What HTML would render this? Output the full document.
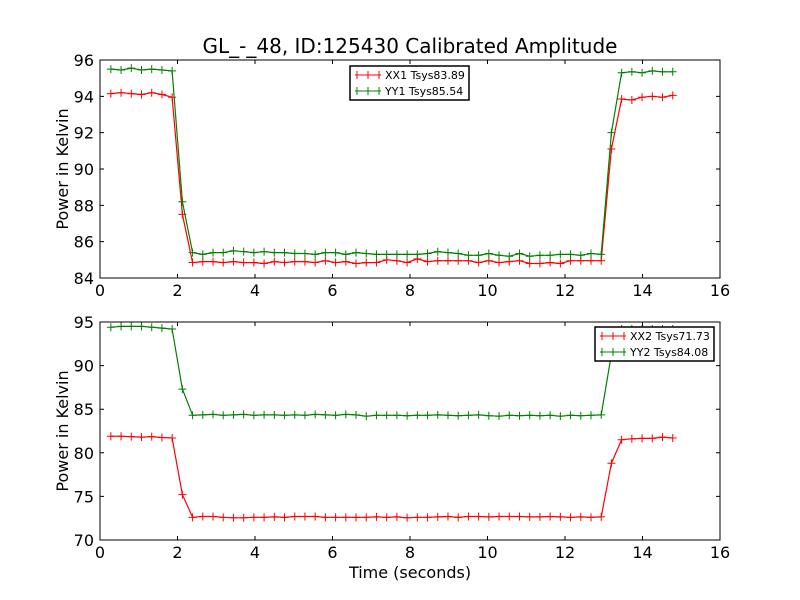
<!DOCTYPE html>
<html><head><meta charset="utf-8"><style>
body{margin:0;background:#fff;}
svg{display:block;font-family:"DejaVu Sans","Liberation Sans",sans-serif;}
</style></head><body>
<svg id="chart" width="800" height="600" viewBox="0 0 800 600" xmlns="http://www.w3.org/2000/svg">
<rect width="800" height="600" fill="#fff"/>
<text x="410" y="53" font-size="20" text-anchor="middle">GL_-_48, ID:125430 Calibrated Amplitude</text>
<g id="p1"></g><g id="p2"></g>
</svg>
<script>
const t0 = 0.28, dt = 14.5/55;
const xx1 = [94.15,94.2,94.15,94.1,94.2,94.1,93.95,87.5,
84.85,84.9,84.9,84.85,84.9,84.85,84.85,84.8,84.9,84.85,
84.9,84.9,84.85,84.95,84.85,84.9,84.8,84.85,84.85,85.0,
84.95,84.85,85.05,84.9,84.95,84.95,84.95,84.95,84.85,84.95,
84.85,84.9,84.95,84.8,84.8,84.85,84.8,84.95,84.95,84.95,84.95,
91.1,93.85,93.8,93.95,94.0,93.95,94.05];
const yy1 = [95.5,95.45,95.55,95.45,95.5,95.45,95.4,88.2,
85.4,85.3,85.4,85.4,85.5,85.45,85.4,85.45,85.4,85.4,
85.35,85.35,85.3,85.4,85.4,85.3,85.4,85.35,85.3,85.3,
85.3,85.3,85.3,85.35,85.45,85.4,85.35,85.25,85.25,85.35,
85.25,85.2,85.35,85.2,85.25,85.25,85.3,85.3,85.25,85.35,85.3,
92.0,95.3,95.35,95.3,95.4,95.35,95.35];
const xx2 = [81.9,81.9,81.85,81.8,81.85,81.75,81.7,75.2,
72.6,72.7,72.7,72.6,72.55,72.55,72.6,72.6,72.65,72.6,
72.7,72.7,72.7,72.6,72.6,72.6,72.6,72.6,72.65,72.6,
72.65,72.55,72.6,72.6,72.65,72.7,72.6,72.7,72.7,72.65,
72.7,72.7,72.7,72.65,72.65,72.7,72.65,72.6,72.65,72.6,72.65,
78.8,81.5,81.6,81.65,81.65,81.8,81.7];
const yy2 = [94.4,94.5,94.5,94.5,94.4,94.3,94.2,87.3,
84.3,84.35,84.4,84.3,84.35,84.4,84.3,84.35,84.35,84.3,
84.35,84.3,84.4,84.35,84.3,84.4,84.35,84.2,84.3,84.3,
84.3,84.25,84.3,84.3,84.35,84.3,84.25,84.3,84.35,84.25,
84.2,84.3,84.25,84.3,84.25,84.3,84.2,84.3,84.25,84.3,84.35,
91.3,94.2,94.2,94.2,94.2,94.2,94.2];
const xTicks = [0,2,4,6,8,10,12,14,16];
const y1Ticks = [84,86,88,90,92,94,96];
const y2Ticks = [70,75,80,85,90,95];
const legend1 = ["XX1 Tsys83.89","YY1 Tsys85.54"];
const legend2 = ["XX2 Tsys71.73","YY2 Tsys84.08"];
const NS="http://www.w3.org/2000/svg";
function mk(parent,tag,attrs,text){const e=document.createElementNS(NS,tag);for(const k in attrs)e.setAttribute(k,attrs[k]);if(text!==undefined)e.textContent=text;parent.appendChild(e);return e;}
function panel(g,top,bottom,ymin,ymax,yticks,series,legend,lx,ly,showXLabel,name){
  const L=100,R=720;
  const xs=v=>L+(v-0)/(16-0)*(R-L);
  const ys=v=>bottom-(v-ymin)/(ymax-ymin)*(bottom-top);
  const colors=["#ff0000","#008000"];
  series.forEach((s,si)=>{
    const pts=s.map((v,i)=>xs(t0+i*dt).toFixed(1)+","+ys(v).toFixed(1)).join(" ");
    const pl=mk(g,"polyline",{points:pts,fill:"none",stroke:colors[si],"stroke-width":1.2});
    
    
    s.forEach((v,i)=>{const x=xs(t0+i*dt),y=ys(v);
      const m=mk(g,"path",{d:`M${x-4},${y}H${x+4}M${x},${y-4}V${y+4}`,stroke:colors[si],"stroke-width":1});
      
      
    });
  });
  const fr=mk(g,"rect",{x:L,y:top,width:R-L,height:bottom-top,fill:"none",stroke:"#000","stroke-width":1});
  
  
  xTicks.forEach(t=>{const x=xs(t);
    mk(g,"path",{d:`M${x},${bottom}v-4M${x},${top}v4`,stroke:"#000"});
    const tx=mk(g,"text",{x:x,y:bottom+18,"font-size":16,"text-anchor":"middle"},String(t));
    
    
  });
  yticks.forEach(t=>{const y=ys(t);
    mk(g,"path",{d:`M${L},${y}h4M${R},${y}h-4`,stroke:"#000"});
    const tx=mk(g,"text",{x:L-6,y:y+6,"font-size":16,"text-anchor":"end"},String(t));
    
    
  });
  const yl=mk(g,"text",{x:0,y:0,"font-size":16,"text-anchor":"middle",transform:`translate(68,${(top+bottom)/2}) rotate(-90)`},"Power in Kelvin");
  
  
  if(showXLabel){const xl=mk(g,"text",{x:410,y:578,"font-size":16,"text-anchor":"middle"},"Time (seconds)");
    
    }
  const lg=mk(g,"g",{});
  
  
  mk(lg,"rect",{x:lx,y:ly,width:119,height:34,fill:"#fff",stroke:"#000","stroke-width":1.5});
  legend.forEach((lab,i)=>{const y=ly+9+i*16;
    mk(lg,"path",{d:`M${lx+5},${y}h26M${lx+18},${y-4}v8M${lx+7},${y-4}v8M${lx+29},${y-4}v8`,stroke:colors[i],"stroke-width":1});
    const e=mk(lg,"text",{x:lx+35,y:y+4,"font-size":11},lab);
    
    
  });
}
panel(document.getElementById("p1"),60,278,84,96,y1Ticks,[xx1,yy1],legend1,350,66,false,"top-panel");
panel(document.getElementById("p2"),322,540,70,95,y2Ticks,[xx2,yy2],legend2,595,327,true,"bottom-panel");
</script>
</body></html>
